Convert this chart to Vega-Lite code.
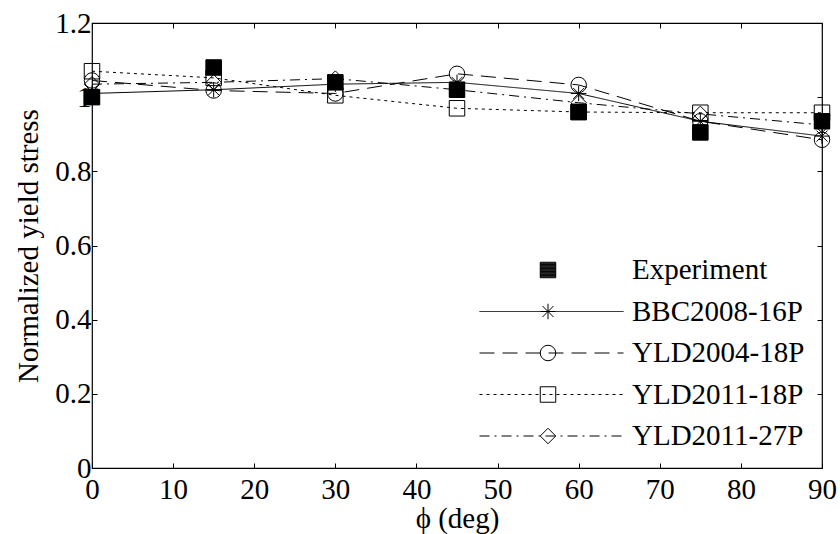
{
  "$schema": "https://vega.github.io/schema/vega-lite/v6.json",
  "width": 730,
  "height": 445,
  "autosize": {"type": "none"},
  "padding": {"left": 92, "top": 23, "right": 18, "bottom": 66},
  "background": "white",
  "config": {
    "font": "'Liberation Serif', 'DejaVu Serif', serif",
    "view": {"stroke": "black", "strokeWidth": 1.2},
    "axis": {
      "grid": false,
      "domain": false,
      "ticks": true,
      "tickSize": -5,
      "tickColor": "black",
      "tickWidth": 1,
      "labelFont": "'Liberation Serif', 'DejaVu Serif', serif",
      "labelFontSize": 29,
      "labelColor": "black",
      "labelOverlap": false,
      "labelFlush": false,
      "labelBound": false,
      "titleFont": "'Liberation Serif', 'DejaVu Serif', serif",
      "titleFontSize": 29,
      "titleFontWeight": "normal",
      "titleColor": "black"
    },
    "legend": {
      "labelFont": "'Liberation Serif', 'DejaVu Serif', serif"
    }
  },
  "data": {
    "values": [
      {"series": "BBC2008-16P", "phi": 0, "stress": 1.01},
      {"series": "BBC2008-16P", "phi": 15, "stress": 1.02},
      {"series": "BBC2008-16P", "phi": 30, "stress": 1.035},
      {"series": "BBC2008-16P", "phi": 45, "stress": 1.04},
      {"series": "BBC2008-16P", "phi": 60, "stress": 1.01},
      {"series": "BBC2008-16P", "phi": 75, "stress": 0.935},
      {"series": "BBC2008-16P", "phi": 90, "stress": 0.895},
      {"series": "YLD2004-18P", "phi": 0, "stress": 1.045},
      {"series": "YLD2004-18P", "phi": 15, "stress": 1.018},
      {"series": "YLD2004-18P", "phi": 30, "stress": 1.01},
      {"series": "YLD2004-18P", "phi": 45, "stress": 1.063},
      {"series": "YLD2004-18P", "phi": 60, "stress": 1.033},
      {"series": "YLD2004-18P", "phi": 75, "stress": 0.935},
      {"series": "YLD2004-18P", "phi": 90, "stress": 0.885},
      {"series": "YLD2011-18P", "phi": 0, "stress": 1.07},
      {"series": "YLD2011-18P", "phi": 15, "stress": 1.052},
      {"series": "YLD2011-18P", "phi": 30, "stress": 1.005},
      {"series": "YLD2011-18P", "phi": 45, "stress": 0.97},
      {"series": "YLD2011-18P", "phi": 60, "stress": 0.96},
      {"series": "YLD2011-18P", "phi": 75, "stress": 0.958},
      {"series": "YLD2011-18P", "phi": 90, "stress": 0.958},
      {"series": "YLD2011-27P", "phi": 0, "stress": 1.035},
      {"series": "YLD2011-27P", "phi": 15, "stress": 1.04},
      {"series": "YLD2011-27P", "phi": 30, "stress": 1.05},
      {"series": "YLD2011-27P", "phi": 45, "stress": 1.02},
      {"series": "YLD2011-27P", "phi": 60, "stress": 0.985},
      {"series": "YLD2011-27P", "phi": 75, "stress": 0.955},
      {"series": "YLD2011-27P", "phi": 90, "stress": 0.925},
      {"series": "Experiment", "phi": 0, "stress": 1.0},
      {"series": "Experiment", "phi": 15, "stress": 1.08},
      {"series": "Experiment", "phi": 30, "stress": 1.04},
      {"series": "Experiment", "phi": 45, "stress": 1.02},
      {"series": "Experiment", "phi": 60, "stress": 0.96},
      {"series": "Experiment", "phi": 75, "stress": 0.905},
      {"series": "Experiment", "phi": 90, "stress": 0.935}
    ]
  },
  "layer": [
    {
      "mark": {"type": "line", "color": "black", "strokeWidth": 1},
      "encoding": {
        "x": {
          "field": "phi", "type": "quantitative",
          "scale": {"domain": [0, 90], "nice": false},
          "axis": {"orient": "bottom", "values": [0, 10, 20, 30, 40, 50, 60, 70, 80, 90], "title": "ϕ (deg)", "labelPadding": 12, "titlePadding": 0}
        },
        "y": {
          "field": "stress", "type": "quantitative",
          "scale": {"domain": [0, 1.2], "nice": false},
          "axis": {"orient": "left", "values": [0, 0.2, 0.4, 0.6, 0.8, 1, 1.2], "format": "~g", "labelOverlap": false, "title": "Normalized yield stress", "labelPadding": 6, "titlePadding": 11}
        },
        "strokeDash": {
          "field": "series", "type": "nominal",
          "sort": ["Experiment", "BBC2008-16P", "YLD2004-18P", "YLD2011-18P", "YLD2011-27P"],
          "scale": {
            "range": [[0, 1000], [1, 0], [15, 8], [3, 4], [10, 5, 2, 5]]
          },
          "legend": {
            "orient": "none", "legendX": 509, "legendY": 232.5, "title": null,
            "symbolType": "M-17,0H1", "symbolSize": 256,
            "symbolStrokeColor": "black", "symbolStrokeWidth": 1,
            "labelFontSize": 29, "labelColor": "black",
            "labelOffset": 2, "labelLimit": 400, "rowPadding": 11.5, "padding": 0
          }
        }
      }
    },
    {
      "mark": {"type": "point", "stroke": "black", "strokeWidth": 1, "size": 240, "opacity": 1},
      "encoding": {
        "x": {
          "field": "phi", "type": "quantitative",
          "axis": {"orient": "top", "values": [0, 10, 20, 30, 40, 50, 60, 70, 80, 90], "labels": false, "title": null}
        },
        "y": {
          "field": "stress", "type": "quantitative",
          "axis": {"orient": "right", "values": [0, 0.2, 0.4, 0.6, 0.8, 1, 1.2], "labels": false, "title": null}
        },
        "shape": {
          "field": "series", "type": "nominal",
          "scale": {
            "domain": ["Experiment", "BBC2008-16P", "YLD2004-18P", "YLD2011-18P", "YLD2011-27P"],
            "range": [
              "M-1,-1H1V1H-1ZM-1,-0.9H1M-1,-0.8H1M-1,-0.7H1M-1,-0.6H1M-1,-0.5H1M-1,-0.4H1M-1,-0.3H1M-1,-0.2H1M-1,-0.1H1M-1,0H1M-1,0.1H1M-1,0.2H1M-1,0.3H1M-1,0.4H1M-1,0.5H1M-1,0.6H1M-1,0.7H1M-1,0.8H1M-1,0.9H1",
              "M0,-1V1M-1,0H1M-0.71,-0.71L0.71,0.71M-0.71,0.71L0.71,-0.71",
              "circle",
              "square",
              "diamond"
            ]
          },
          "legend": {
            "orient": "none", "legendX": 441.5, "legendY": 232.5, "title": null,
            "symbolSize": 240, "symbolStrokeColor": "black", "symbolStrokeWidth": 1,
            "labelFontSize": 29, "labelExpr": "' '", "labelOffset": 15, "labelLimit": 400,
            "rowPadding": 11.5, "padding": 0
          }
        },
        "fill": {
          "condition": {"test": "datum.series === 'Experiment'", "value": "black"},
          "value": "transparent"
        }
      }
    }
  ],
  "resolve": {"axis": {"x": "independent", "y": "independent"}}
}
